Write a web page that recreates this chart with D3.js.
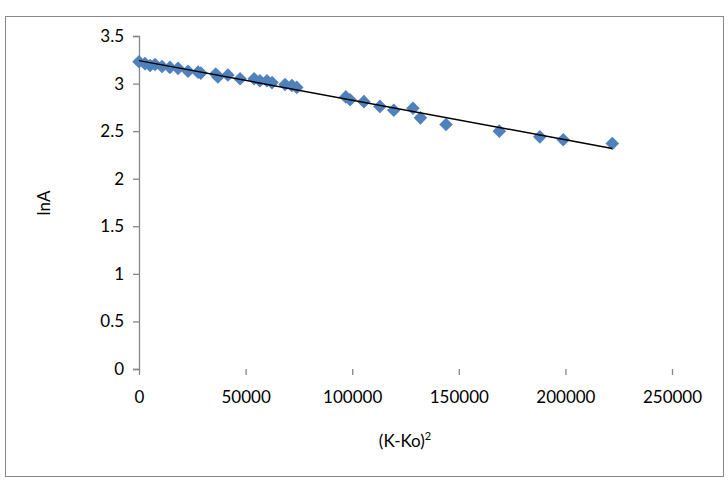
<!DOCTYPE html>
<html><head><meta charset="utf-8">
<script src="https://cdn.jsdelivr.net/npm/d3@7/dist/d3.min.js"></script>
<style>body{margin:0;background:#fff}svg{display:block}</style>
</head><body>
<svg id="c" width="728" height="482"></svg>
<script>
const xValues = [0,2800,5200,7500,10800,14500,18300,23000,27700,29000,36000,37000,41700,47400,54000,56700,60000,62400,68500,71700,74000,97000,99000,105500,113000,119500,128500,132000,144000,169000,188000,199000,222000];
const yValues = [3.23,3.21,3.19,3.20,3.18,3.17,3.16,3.13,3.12,3.11,3.10,3.07,3.09,3.05,3.05,3.03,3.03,3.01,2.99,2.98,2.96,2.86,2.83,2.81,2.76,2.72,2.74,2.64,2.57,2.50,2.44,2.41,2.37];
const xTicks = [0,50000,100000,150000,200000,250000];
const yTicks = [0,0.5,1,1.5,2,2.5,3,3.5];
const xTitle = "(K-Ko)";
const yTitle = "lnA";

const svg = d3.select("#c");
const font = "Lato, 'Open Sans', sans-serif";
svg.append("rect").attr("x",5.5).attr("y",16.5).attr("width",718).attr("height",460)
  .attr("fill","#fff").attr("stroke","#898989").attr("stroke-width",1);

const x = d3.scaleLinear().domain([0,250000]).range([139,672]);
const y = d3.scaleLinear().domain([0,3.5]).range([369,36]);

const gx = svg.append("g").attr("transform","translate(0,369)")
  .call(d3.axisBottom(x).tickValues(xTicks).tickSize(6).tickPadding(16).tickFormat(d3.format("d")));
const gy = svg.append("g").attr("transform","translate(139,0)")
  .call(d3.axisLeft(y).tickValues(yTicks).tickSize(6).tickPadding(9).tickFormat(d=>String(d)));
[gx,gy].forEach(g=>{
  g.selectAll("path").attr("stroke","#868686").attr("stroke-width",1.3);
  g.selectAll("line").attr("stroke","#868686").attr("stroke-width",1.3);
  g.selectAll("text").attr("font-family",font).attr("font-size",17).attr("fill","#000");
});
gy.select(".domain").attr("d","M-6,36.5H0.5V369.5H-6");
gx.select(".domain").attr("d","M139.5,375V369.5H672.5V375");

// points
const pts = xValues.map((v,i)=>[v,yValues[i]]);
svg.append("g").selectAll("path").data(pts).join("path")
  .attr("d",d3.symbol(d3.symbolDiamond2? d3.symbolDiamond2 : d3.symbolDiamond,118))
  .attr("transform",d=>`translate(${x(d[0])},${y(d[1])})`)
  .attr("fill","#4F81BD");

// linear trendline (least squares)
const mx = d3.mean(xValues), my = d3.mean(yValues);
const slope = d3.sum(pts,d=>(d[0]-mx)*(d[1]-my))/d3.sum(pts,d=>(d[0]-mx)**2);
const icpt = my - slope*mx;
const x0 = d3.min(xValues), x1 = d3.max(xValues);
svg.append("line").attr("x1",x(x0)).attr("y1",y(icpt+slope*x0))
  .attr("x2",x(x1)).attr("y2",y(icpt+slope*x1))
  .attr("stroke","#000").attr("stroke-width",1.5);

// titles
const xt = svg.append("text").attr("x",405).attr("y",447).attr("text-anchor","middle")
  .attr("font-family",font).attr("font-size",17).text(xTitle);
xt.append("tspan").attr("font-size",11).attr("dy",-7).text("2");
svg.append("text").attr("transform","translate(50,203) rotate(-90)").attr("text-anchor","middle")
  .attr("font-family",font).attr("font-size",17).text(yTitle);
</script>
</body></html>
